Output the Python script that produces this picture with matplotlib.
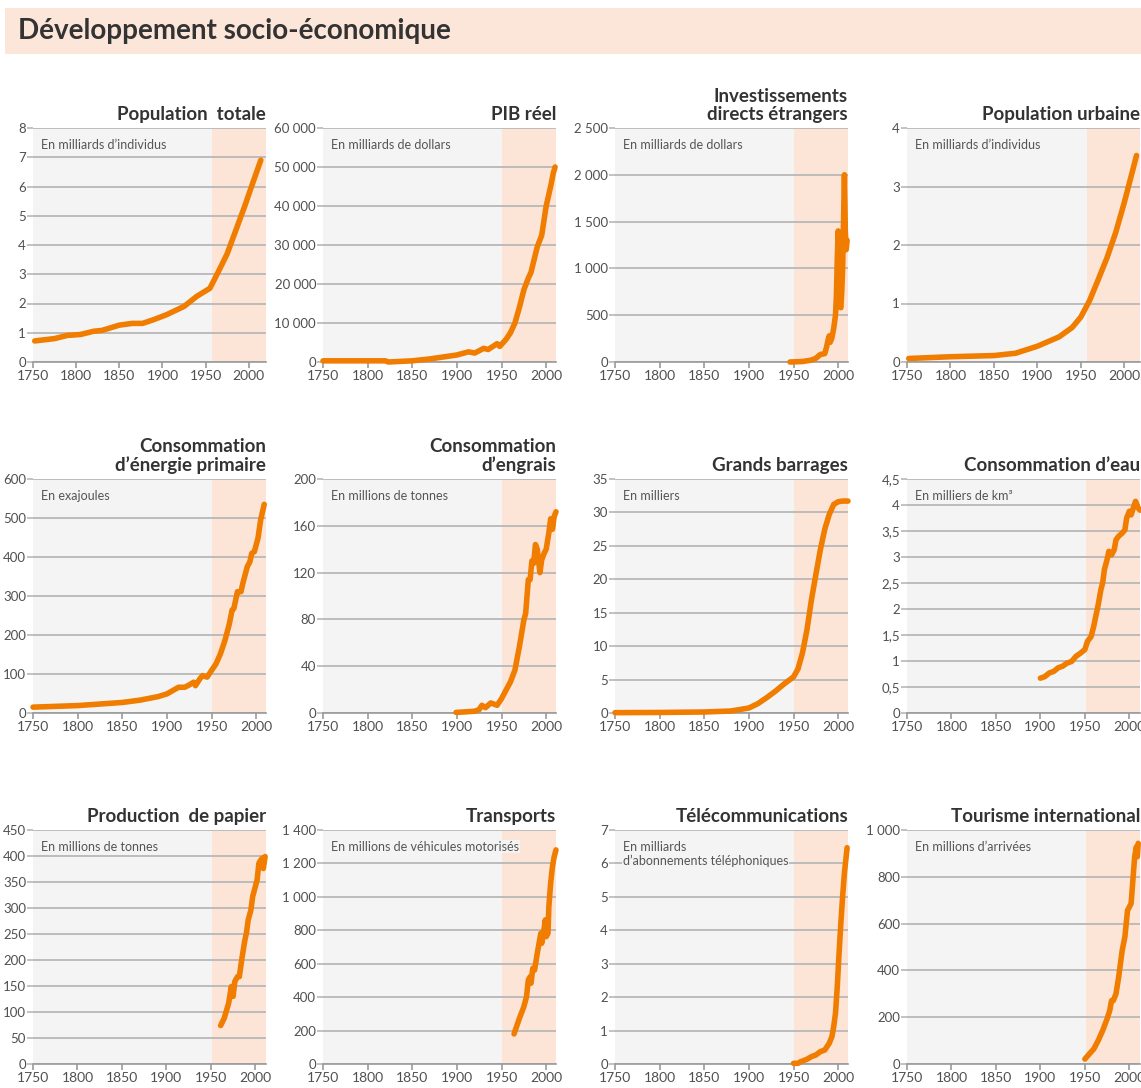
import matplotlib.pyplot as plt
from matplotlib.patches import Rectangle
from matplotlib.ticker import FuncFormatter

plt.rcParams['font.family'] = ['Lato', 'DejaVu Sans']

# --- data ---
pop_years = [1752, 1775, 1790, 1805, 1820, 1830, 1850, 1865, 1877, 1890, 1905, 1925, 1940, 1955,
             1965, 1975, 1985, 1995, 2005, 2014]
pop_vals = [0.72, 0.8, 0.91, 0.94, 1.05, 1.08, 1.26, 1.32, 1.32, 1.45, 1.62, 1.9, 2.25, 2.52,
            3.1, 3.7, 4.5, 5.3, 6.15, 6.9]

pib_years = [1750, 1820, 1823, 1850, 1870, 1900, 1913, 1920, 1930, 1935, 1945, 1948, 1955, 1960,
             1965, 1970, 1975, 1980, 1983, 1990, 1995, 2000, 2005, 2008, 2010]
pib_vals = [300, 300, 0, 300, 800, 1800, 2600, 2300, 3500, 3200, 4700, 4000, 5800, 7500,
            10000, 14000, 18500, 21500, 23000, 29500, 32500, 40000, 45000, 48500, 50000]

ide_years = [1946, 1960, 1970, 1975, 1980, 1985, 1987, 1989, 1990, 1991, 1993, 1995, 1997, 1998,
             1999, 2000, 2001, 2002, 2003, 2004, 2005, 2006, 2007, 2008, 2009, 2010]
ide_vals = [0, 5, 20, 40, 80, 90, 160, 250, 280, 210, 260, 360, 500, 700,
            1100, 1400, 900, 600, 580, 750, 1000, 1500, 2000, 1400, 1200, 1300]

urb_years = [1752, 1800, 1850, 1875, 1900, 1925, 1940, 1950, 1960, 1970, 1980, 1990, 2000, 2010, 2014]
urb_vals = [0.06, 0.09, 0.11, 0.15, 0.27, 0.43, 0.59, 0.77, 1.05, 1.41, 1.78, 2.21, 2.73, 3.3, 3.53]

nrj_years = [1750, 1800, 1850, 1870, 1890, 1900, 1910, 1913, 1920, 1925, 1930, 1932, 1937, 1940,
             1945, 1950, 1955, 1960, 1965, 1970, 1973, 1975, 1979, 1983, 1985, 1990, 1993, 1995,
             1998, 2000, 2002, 2005, 2008, 2009]
nrj_vals = [15, 19, 27, 33, 42, 49, 62, 66, 66, 72, 79, 70, 88, 96,
            92, 109, 126, 152, 186, 229, 264, 268, 311, 311, 332, 375, 388, 409,
            414, 431, 448, 495, 525, 535]

eng_years = [1899, 1910, 1920, 1925, 1928, 1932, 1938, 1945, 1950, 1955, 1960, 1965, 1970, 1975,
             1977, 1980, 1982, 1984, 1986, 1988, 1990, 1993, 1995, 1998, 2000, 2003, 2005, 2007,
             2009, 2011]
eng_vals = [0.5, 1, 1.5, 3, 6.6, 4.6, 8.6, 6.6, 12.3, 19.5, 26.6, 36.7, 56.7, 79.6,
            85, 114, 114, 130, 128, 144, 140, 120, 131, 137, 140, 154, 166, 157,
            168, 172]

bar_years = [1750, 1800, 1850, 1880, 1900, 1910, 1920, 1930, 1940, 1950, 1955, 1960, 1965, 1970,
             1975, 1980, 1985, 1990, 1995, 2000, 2005, 2011]
bar_vals = [0.05, 0.08, 0.15, 0.3, 0.75, 1.4, 2.3, 3.3, 4.4, 5.4, 6.6, 9.0, 12.4, 16.9,
            20.7, 24.4, 27.5, 29.7, 31.2, 31.6, 31.7, 31.7]

eau_years = [1900, 1905, 1910, 1915, 1920, 1925, 1930, 1935, 1940, 1945, 1950, 1953, 1957, 1960,
             1963, 1965, 1968, 1970, 1972, 1975, 1977, 1980, 1983, 1985, 1988, 1990, 1992, 1995,
             1997, 2000, 2002, 2005, 2007, 2010, 2012]
eau_vals = [0.67, 0.7, 0.77, 0.8, 0.87, 0.9, 0.96, 0.99, 1.09, 1.15, 1.22, 1.38, 1.47, 1.67,
            1.92, 2.08, 2.37, 2.5, 2.76, 2.95, 3.11, 3.04, 3.14, 3.33, 3.4, 3.43, 3.46, 3.52,
            3.75, 3.88, 3.81, 3.97, 4.07, 3.94, 3.9]

pap_years = [1961, 1965, 1970, 1973, 1975, 1977, 1980, 1982, 1985, 1988, 1990, 1992, 1995, 1997,
             2000, 2002, 2004, 2006, 2008, 2009, 2011]
pap_vals = [74, 88, 117, 149, 130, 159, 168, 168, 204, 236, 252, 277, 296, 322,
            341, 354, 386, 392, 396, 376, 399]

tra_years = [1964, 1970, 1975, 1978, 1980, 1982, 1983, 1985, 1987, 1990, 1992, 1994, 1995, 1998,
             1999, 2000, 2002, 2003, 2005, 2007, 2009, 2011]
tra_vals = [180, 273, 343, 403, 503, 522, 483, 572, 562, 662, 722, 782, 722, 822,
            862, 762, 782, 941, 1081, 1181, 1241, 1281]

tel_years = [1950, 1955, 1958, 1965, 1970, 1975, 1980, 1985, 1990, 1993, 1995, 1997, 1999, 2001,
             2003, 2005, 2007, 2009, 2010]
tel_vals = [0.02, 0.02, 0.07, 0.14, 0.22, 0.27, 0.37, 0.42, 0.62, 0.82, 1.12, 1.52, 2.32, 3.32,
            4.22, 5.02, 5.72, 6.22, 6.47]

tou_years = [1950, 1955, 1960, 1965, 1970, 1975, 1978, 1980, 1982, 1985, 1988, 1990, 1992, 1995,
             1998, 2000, 2002, 2004, 2006, 2008, 2009, 2010]
tou_vals = [21, 43, 64, 100, 143, 193, 229, 271, 271, 300, 371, 429, 486, 543,
            657, 671, 686, 786, 886, 929, 886, 943]

titles = ["Population  totale", "PIB réel", "Investissements\ndirects étrangers", "Population urbaine",
          "Consommation\nd’énergie primaire", "Consommation\nd’engrais", "Grands barrages",
          "Consommation d’eau", "Production  de papier", "Transports", "Télécommunications",
          "Tourisme international"]
units = ["En milliards d’individus", "En milliards de dollars", "En milliards de dollars",
         "En milliards d’individus", "En exajoules", "En millions de tonnes", "En milliers",
         "En milliers de km³", "En millions de tonnes", "En millions de véhicules motorisés",
         "En milliards\nd’abonnements téléphoniques", "En millions d’arrivées"]
series = [(pop_years, pop_vals), (pib_years, pib_vals), (ide_years, ide_vals), (urb_years, urb_vals),
          (nrj_years, nrj_vals), (eng_years, eng_vals), (bar_years, bar_vals), (eau_years, eau_vals),
          (pap_years, pap_vals), (tra_years, tra_vals), (tel_years, tel_vals), (tou_years, tou_vals)]
y_max = [8, 60000, 2500, 4, 600, 200, 35, 4.5, 450, 1400, 7, 1000]
y_step = [1, 10000, 500, 1, 100, 40, 5, 0.5, 50, 200, 1, 200]
x_end = [2020, 2011, 2011, 2018, 2011, 2011, 2011, 2012, 2012, 2011, 2011, 2012]
shade_start = [1957, 1951, 1950, 1957, 1950, 1950, 1950, 1951, 1951, 1950, 1950, 1951]
x_ticks = [1750, 1800, 1850, 1900, 1950, 2000]

ORANGE = '#f07c00'
GRID = '#b8b8b8'
BG = '#f4f4f4'
SHADE = '#fce4d6'
TXT = '#505050'


def fr_fmt(v, pos):
    if abs(v - round(v)) < 1e-9:
        return f"{int(round(v)):,}".replace(",", " ")
    return f"{v:g}".replace(".", ",")


W, H = 1141, 1088
fig = plt.figure(figsize=(W / 100, H / 100), dpi=100)

# title bar
fig.patches.append(Rectangle((5 / W, 1 - 54 / H), 1 - 5 / W, 46 / H, transform=fig.transFigure,
                             facecolor='#fce6da', edgecolor='none', zorder=0))
fig.text(18 / W, 1 - 31 / H, "Développement socio-économique", fontsize=20, fontweight='bold',
         color='#333333', va='center', ha='left')

col_left = [33, 323, 615, 907]
row_top = [128, 479, 830]
pw, ph = 233, 234

for i in range(12):
    r, c = divmod(i, 4)
    ax = fig.add_axes([col_left[c] / W, 1 - (row_top[r] + ph) / H, pw / W, ph / H])
    ax.set_facecolor(BG)
    ax.axvspan(shade_start[i], x_end[i], color=SHADE, zorder=0, lw=0)
    ax.set_xlim(1750, x_end[i])
    ax.set_ylim(0, y_max[i])
    n = int(round(y_max[i] / y_step[i]))
    ax.set_yticks([k * y_step[i] for k in range(n + 1)])
    ax.set_xticks(x_ticks)
    ax.yaxis.set_major_formatter(FuncFormatter(fr_fmt))
    ax.set_axisbelow(True)
    ax.yaxis.grid(True, color=GRID, lw=1.3)
    for s in ['top', 'right', 'left']:
        ax.spines[s].set_visible(False)
    ax.spines['bottom'].set_color('#9a9a9a')
    ax.spines['bottom'].set_linewidth(1.2)
    ax.tick_params(axis='y', length=4, width=1.2, color=GRID, labelsize=9.5, labelcolor=TXT, pad=1)
    ax.tick_params(axis='x', length=4, width=1.2, color='#9a9a9a', labelsize=10, labelcolor=TXT, pad=2)

    xs, ys = series[i]
    ax.plot(xs, ys, color=ORANGE, lw=4, solid_capstyle='round', solid_joinstyle='round',
            zorder=3, clip_on=False)

    ax.set_title(titles[i], loc='right', fontsize=13.5, fontweight='bold', color='#333333', pad=6,
                 linespacing=1.05)
    ax.text(0.035, 0.955, units[i], transform=ax.transAxes, ha='left', va='top', fontsize=9,
            color='#555555', linespacing=1.2,
            bbox=dict(facecolor=BG, edgecolor='none', pad=0.5))

fig.savefig('out.png', dpi=100, facecolor='white')
